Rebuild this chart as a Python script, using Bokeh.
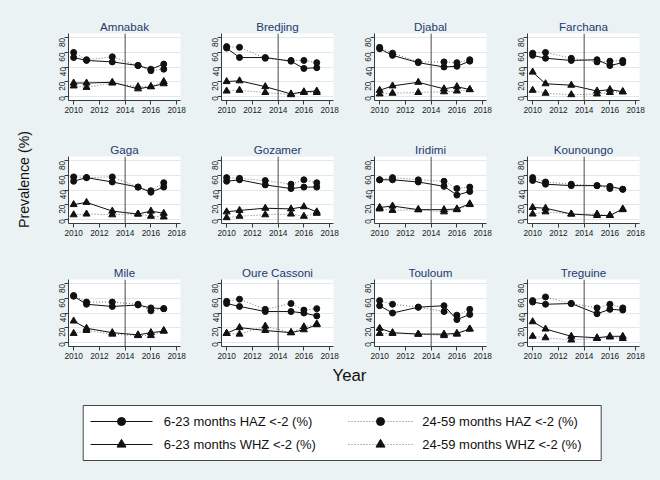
from math import pi
from bokeh.plotting import figure
from bokeh.layouts import column, row
from bokeh.models import Range1d, Span, GlobalInlineStyleSheet
from bokeh.core.properties import value
from bokeh.embed import file_html
from bokeh.resources import INLINE

# ---------------- data ----------------
districts = ["Amnabak", "Bredjing", "Djabal", "Farchana",
             "Gaga", "Gozamer", "Iridimi", "Kounoungo",
             "Mile", "Oure Cassoni", "Touloum", "Treguine"]
years = [2010, 2011, 2013, 2015, 2016, 2017]

haz_6_23 = [
    [53, 49, 47, 42, 37, 44], [66, 53, 53, 48, 38, 39], [65, 56, 46, 40, 41, 48], [56, 52, 49, 50, 42, 46],
    [52, 57, 51, 44, 37, 44], [52, 54, 47, 42, 44, 44], [54, 54, 51, 45, 33, 38], [53, 48, 46, 46, 45, 41],
    [63, 52, 49, 51, 47, 46], [53, 49, 42, 42, 40, 36], [50, 40, 48, 50, 31, 38], [55, 52, 53, 39, 45, 44],
]
haz_24_59 = [
    [60, 50, 54, 42, 35, 37], [68, 67, 52, 49, 49, 46], [67, 59, 47, 47, 46, 50], [59, 60, 52, 47, 48, 49],
    [58, 57, 58, 44, 39, 50], [57, 56, 53, 48, 54, 50], [54, 57, 54, 52, 42, 44], [57, 51, 48, 46, 42, 41],
    [64, 55, 55, 52, 43, 46], [56, 59, 45, 53, 44, 46], [57, 52, 48, 42, 37, 45], [57, 62, 53, 47, 52, 47],
]
whz_6_23 = [
    [18, 18, 19, 10, 13, 17], [20, 21, 13, 3, 6, 7], [8, 14, 19, 10, 13, 9], [33, 17, 15, 7, 9, 6],
    [20, 23, 11, 7, 11, 8], [10, 12, 15, 14, 17, 10], [16, 18, 13, 13, 14, 21], [16, 15, 7, 5, 5, 14],
    [29, 19, 13, 10, 13, 15], [12, 20, 16, 13, 17, 24], [19, 13, 11, 11, 12, 18], [28, 18, 8, 6, 8, 8],
]
whz_24_59 = [
    [14, 12, 18, 13, 13, 20], [7, 8, 5, 2, 5, 5], [3, 4, 5, 6, 7, 9], [8, 4, 2, 3, 5, 6],
    [6, 7, 6, 7, 4, 3], [2, 4, 6, 7, 4, 8], [14, 12, 13, 10, 13, 20], [7, 10, 7, 7, 5, 13],
    [12, 16, 11, 9, 9, 16], [12, 11, 22, 13, 21, 25], [12, 12, 11, 9, 11, 18], [8, 6, 3, 5, 7, 5],
]
intervention_year = 2014
x_ticks = [2010, 2012, 2014, 2016, 2018]
y_ticks = [0, 20, 40, 60, 80]
series_labels = ["6-23 months HAZ <-2 (%)", "24-59 months HAZ <-2 (%)",
                 "6-23 months WHZ <-2 (%)", "24-59 months WHZ <-2 (%)"]
y_title = "Prevalence (%)"
x_title = "Year"

# ---------------- style ----------------
BG = "#eaf2f3"
FONT = "Liberation Sans"
TITLE_COLOR = "#25386e"
INK = "#111111"
DOT = "#777777"
AXIS = "#3a3a3a"
X_LO, X_HI = 2009.6, 2018.3
Y_LO, Y_HI = -6, 86


def make_panel(idx, width, height, top, bottom, right):
    p = figure(width=width, height=height,
               x_range=Range1d(X_LO, X_HI), y_range=Range1d(Y_LO, Y_HI),
               output_backend="svg", toolbar_location=None,
               min_border_left=28, min_border_right=right, min_border_top=top, min_border_bottom=bottom,
               background_fill_color="white", border_fill_color=BG, outline_line_color=None)
    p.title.text = districts[idx]
    p.title.text_font = FONT
    p.title.text_font_size = "11.6px"
    p.title.text_font_style = "normal"
    p.title.text_color = TITLE_COLOR
    p.title.align = "center"
    p.title.standoff = 2

    p.xaxis.ticker = x_ticks
    p.yaxis.ticker = y_ticks
    for ax in (p.xaxis[0], p.yaxis[0]):
        ax.axis_line_color = AXIS
        ax.major_tick_line_color = AXIS
        ax.minor_tick_line_color = None
        ax.major_tick_in = 0
        ax.major_tick_out = 4
        ax.major_label_text_font = FONT
        ax.major_label_text_font_size = "8.3px"
        ax.major_label_text_color = "#222222"
        ax.major_label_standoff = 2
    p.yaxis.major_label_orientation = pi / 2
    p.xgrid.visible = False
    p.ygrid.ticker = y_ticks
    p.ygrid.grid_line_color = "#dfe8eb"

    p.add_layout(Span(location=intervention_year, dimension="height",
                      line_color="#4a4a4a", line_width=1))

    specs = [
        (haz_24_59[idx], "dot", "circle", 6),
        (whz_24_59[idx], "dot", "triangle", 7),
        (haz_6_23[idx], "solid", "circle", 6),
        (whz_6_23[idx], "solid", "triangle", 7),
    ]
    for vals, style, marker, size in specs:
        if style == "dot":
            p.line(years, vals, line_color=DOT, line_width=1, line_dash="1 2")
        else:
            p.line(years, vals, line_color=INK, line_width=1)
        p.scatter(years, vals, marker=marker, size=size, fill_color=INK, line_color=INK)
    return p


row_specs = [(131, 33, 31), (123, 25, 31), (108, 25, 16)]  # (height, top border, bottom border)
rows = []
for r, (h, t, b) in enumerate(row_specs):
    panels = []
    for c in range(4):
        w, rb = (161, 21) if c == 3 else (153, 13)
        panels.append(make_panel(r * 4 + c, w, h, t, b, rb))
    rows.append(row(*panels))
grid = column(*rows)

# y title strip
ylab = figure(width=40, height=362, x_range=Range1d(0, 40), y_range=Range1d(0, 362),
              output_backend="svg", toolbar_location=None,
              x_axis_location=None, y_axis_location=None,
              min_border_left=0, min_border_right=0, min_border_top=0, min_border_bottom=0,
              background_fill_color=BG, border_fill_color=BG, outline_line_color=None)
ylab.grid.visible = False
ylab.text(x=[23], y=[183], text=[y_title], angle=pi / 2, text_align="center",
          text_baseline="middle", text_font=value(FONT), text_font_size="14.2px", text_color="#111111")

# bottom: x title + legend
bot = figure(width=660, height=118, x_range=Range1d(0, 660), y_range=Range1d(0, 118),
             output_backend="svg", toolbar_location=None,
             x_axis_location=None, y_axis_location=None,
             min_border_left=0, min_border_right=0, min_border_top=0, min_border_bottom=0,
             background_fill_color=BG, border_fill_color=BG, outline_line_color=None)
bot.grid.visible = False
bot.text(x=[349], y=[105.5], text=[x_title], text_align="center", text_baseline="middle",
         text_font=value(FONT), text_font_size="16.8px", text_color="#111111")

bot.quad(left=[82.7], right=[600.7], bottom=[20], top=[75],
         fill_color="white", line_color="#444444", line_width=1)

leg_rows = [59, 36]
leg_cols = [(90, 152, 121, 163.3), (348, 412, 380, 421.7)]
leg_specs = [  # (col, row, style, marker, label index)
    (0, 0, "solid", "circle", 0),
    (1, 0, "dot", "circle", 1),
    (0, 1, "solid", "triangle", 2),
    (1, 1, "dot", "triangle", 3),
]
for c, r, style, marker, li in leg_specs:
    x0, x1, xm, xl = leg_cols[c]
    yy = leg_rows[r]
    if style == "dot":
        bot.line([x0, x1], [yy, yy], line_color=DOT, line_width=1, line_dash="1 2")
    else:
        bot.line([x0, x1], [yy, yy], line_color=INK, line_width=1)
    bot.scatter([xm], [yy], marker=marker, size=8 if marker == "circle" else 9,
                fill_color=INK, line_color=INK)
    bot.text(x=[xl], y=[yy], text=[series_labels[li]], text_align="left", text_baseline="middle",
             text_font=value(FONT), text_font_size="13px", text_color="#111111")

layout = column(row(ylab, grid), bot)
layout.stylesheets = [GlobalInlineStyleSheet(css="html, body { background-color: #eaf2f3; }")]

open("out.html", "w").write(file_html(layout, INLINE))
